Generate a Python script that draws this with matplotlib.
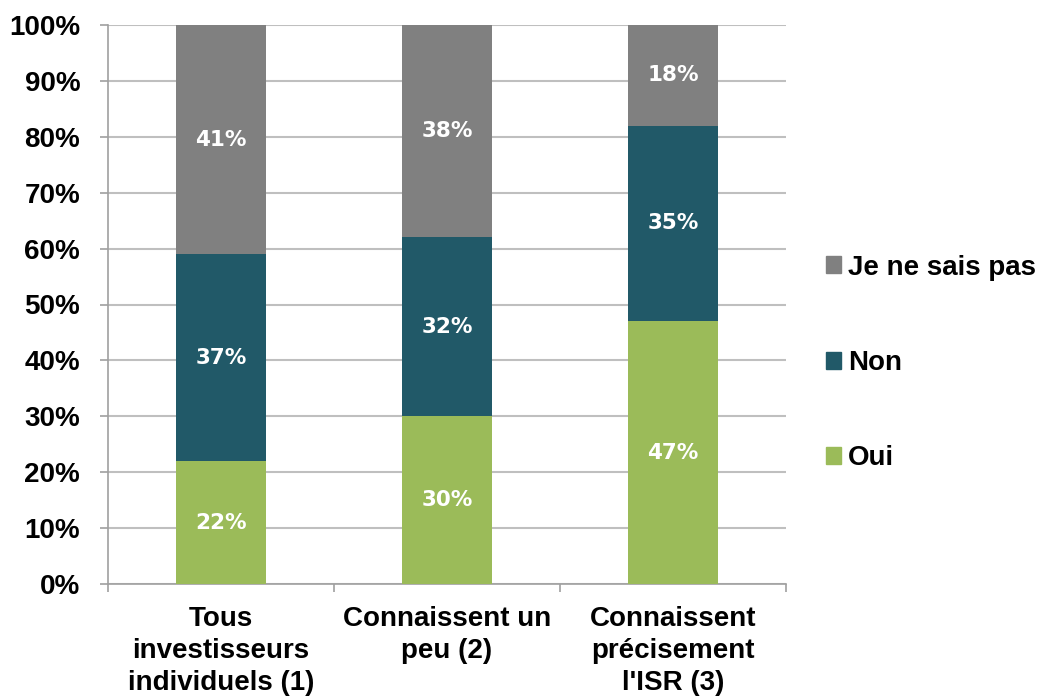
import matplotlib
matplotlib.use("Agg")
import matplotlib.pyplot as plt
from matplotlib.patches import Patch
import numpy as np

categories = ["Tous\ninvestisseurs\nindividuels (1)", "Connaissent un\npeu (2)", "Connaissent\nprécisement\nl'ISR (3)"]
oui = [22, 30, 47]
non = [37, 32, 35]
nsp = [41, 38, 18]
series_names = ["Oui", "Non", "Je ne sais pas"]
colors = ["#9BBB59", "#215968", "#808080"]

fig = plt.figure(figsize=(10.41, 6.98), dpi=100)
ax = fig.add_axes([108 / 1041, 1 - 584 / 698, (786 - 108) / 1041, (584 - 25) / 698])

x = np.arange(len(categories))
bottom = np.zeros(len(categories))
for vals, name, col in zip([oui, non, nsp], series_names, colors):
    ax.bar(x, vals, width=0.4, bottom=bottom, color=col, label=name, zorder=3)
    for xi, b, v in zip(x, bottom, vals):
        ax.text(xi, b + v / 2, f"{v}%", ha="center", va="center", color="white",
                fontsize=15.5, fontweight="bold", family="DejaVu Sans", zorder=4)
    bottom += vals

ax.set_xlim(-0.5, 2.5)
ax.set_ylim(0, 100)
ax.set_yticks(range(0, 101, 10))
ax.set_yticklabels([f"{v}%" for v in range(0, 101, 10)], fontsize=20,
                   fontweight="bold", family="Liberation Sans")
ax.yaxis.grid(True, color="#BFBFBF", linewidth=1.5, zorder=0)
ax.set_axisbelow(True)

ax.set_xticks([-0.5, 0.5, 1.5, 2.5])
ax.set_xticklabels([])
ax.set_xticks(x, minor=True)
ax.set_xticklabels(categories, minor=True, fontsize=20, fontweight="bold",
                   family="Liberation Sans", linespacing=1.3)
ax.tick_params(axis="x", which="minor", length=0, pad=16)
ax.tick_params(axis="x", which="major", length=6, color="#A0A0A0", width=1.2)
ax.tick_params(axis="y", length=6, color="#A0A0A0", width=1.2, pad=14)

for s in ["top", "right"]:
    ax.spines[s].set_visible(False)
for s in ["left", "bottom"]:
    ax.spines[s].set_color("#A0A0A0")
    ax.spines[s].set_linewidth(1.2)

handles = [Patch(color=c) for c in colors[::-1]]
leg = fig.legend(handles, series_names[::-1], loc="center left",
                 bbox_to_anchor=(826 / 1041, 1 - 363 / 698), frameon=False,
                 borderpad=0, borderaxespad=0,
                 prop={"family": "Liberation Sans", "weight": "bold", "size": 20},
                 handlelength=0.55, handleheight=0.55, handletextpad=0.25,
                 labelspacing=2.5)

fig.savefig("out.png", dpi=100)
